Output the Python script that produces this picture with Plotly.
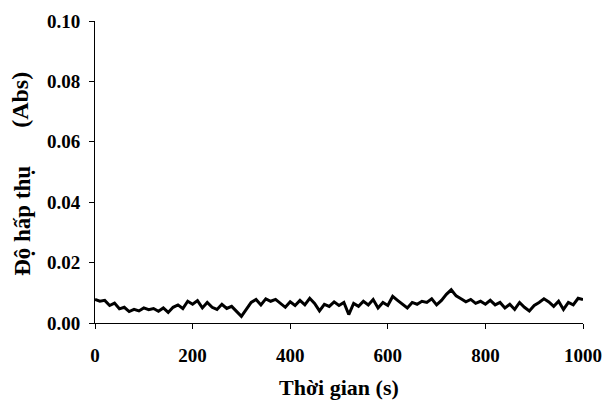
import plotly.graph_objects as go

time_s = list(range(0, 1001, 10))
absorbance = [
    0.0078, 0.0072, 0.0075, 0.0058, 0.0066, 0.0047, 0.0052, 0.0038, 0.0045, 0.0040,
    0.0050, 0.0044, 0.0048, 0.0039, 0.0050, 0.0035, 0.0052, 0.0060, 0.0048, 0.0072,
    0.0062, 0.0074, 0.0050, 0.0068, 0.0052, 0.0045, 0.0062, 0.0048, 0.0055, 0.0038,
    0.0022, 0.0045, 0.0068, 0.0078, 0.0060, 0.0080, 0.0072, 0.0078, 0.0065, 0.0052,
    0.0070, 0.0058, 0.0075, 0.0060, 0.0082, 0.0065, 0.0040, 0.0062, 0.0055, 0.0070,
    0.0058, 0.0068, 0.0028, 0.0065, 0.0055, 0.0072, 0.0060, 0.0078, 0.0050, 0.0068,
    0.0058, 0.0088, 0.0075, 0.0062, 0.0050, 0.0068, 0.0062, 0.0072, 0.0068, 0.0080,
    0.0060, 0.0075, 0.0095, 0.0110, 0.0090, 0.0080, 0.0070, 0.0078, 0.0065, 0.0072,
    0.0062, 0.0075, 0.0060, 0.0068, 0.0050, 0.0062, 0.0045, 0.0068, 0.0052, 0.0040,
    0.0058, 0.0068, 0.0080, 0.0070, 0.0055, 0.0072, 0.0045, 0.0068, 0.0060, 0.0082,
    0.0078,
]
x_ticks = [0, 200, 400, 600, 800, 1000]
y_ticks = [0.00, 0.02, 0.04, 0.06, 0.08, 0.10]
y_ticklabels = ["0.00", "0.02", "0.04", "0.06", "0.08", "0.10"]

FONT = "Liberation Serif, Times New Roman, serif"

fig = go.Figure()
fig.add_trace(go.Scatter(
    x=time_s, y=absorbance, mode="lines",
    line=dict(color="black", width=3),
    showlegend=False,
))

fig.update_layout(
    width=603, height=405,
    margin=dict(l=95, r=20, t=21, b=82),
    paper_bgcolor="white", plot_bgcolor="white",
    font=dict(family=FONT, size=19, color="black"),
    xaxis=dict(
        range=[0, 1000], tickvals=x_ticks, ticktext=[str(v) for v in x_ticks],
        showline=True, linecolor="black", linewidth=1,
        ticks="outside", ticklen=5, tickcolor="black", tickwidth=1,
        showgrid=False, zeroline=False, ticklabelstandoff=10, automargin=False,
        tickfont=dict(family=FONT, size=19, color="black", weight="bold"),
    ),
    yaxis=dict(
        range=[0, 0.10], tickvals=y_ticks, ticktext=y_ticklabels,
        showline=True, linecolor="black", linewidth=1,
        ticks="outside", ticklen=5, tickcolor="black", tickwidth=1,
        showgrid=False, zeroline=False, ticklabelstandoff=5, automargin=False,
        tickfont=dict(family=FONT, size=19, color="black", weight="bold"),
    ),
    annotations=[
        dict(text="<b>Thời gian (s)</b>", xref="paper", yref="paper",
             x=0.5, y=-0.212, xanchor="center", yanchor="middle",
             showarrow=False, font=dict(family=FONT, size=22, color="black")),
        dict(text="<b>Độ hấp thụ</b>", xref="paper", yref="paper",
             x=-0.150, y=(323 - 221) / 302, xanchor="center", yanchor="middle",
             textangle=-90,
             showarrow=False, font=dict(family=FONT, size=23, color="black")),
        dict(text="<b>(Abs)</b>", xref="paper", yref="paper",
             x=-0.154, y=(323 - 100) / 302, xanchor="center", yanchor="middle",
             textangle=-90,
             showarrow=False, font=dict(family=FONT, size=24, color="black")),
    ],
)

fig.write_html("out.html")
